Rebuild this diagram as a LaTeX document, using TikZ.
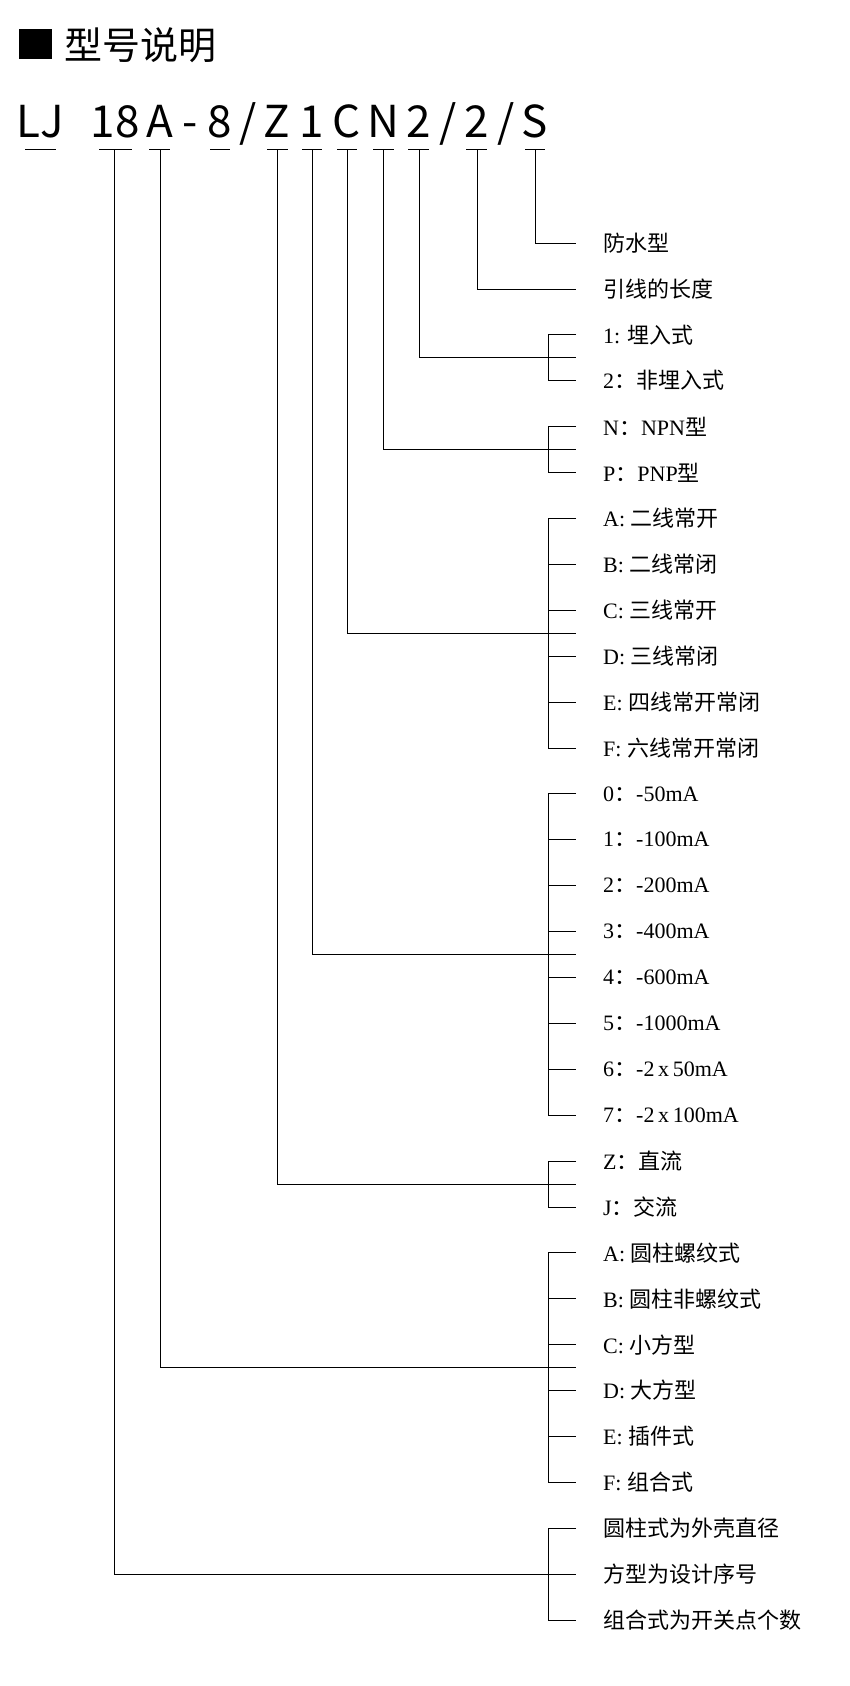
\documentclass[tikz,border=0pt]{standalone}
\usepackage{fontspec}
\setmainfont{Liberation Serif}
\newfontfamily\cjk{Noto Sans CJK SC}
\begin{document}
\begin{tikzpicture}[x=1pt,y=-1pt,
  lab/.style={anchor=west,inner sep=0pt,font=\fontsize{22}{24}\selectfont},
  code/.style={inner sep=0pt,anchor=base,font=\cjk\fontsize{44}{46}\selectfont},
  ln/.style={line width=0.8pt}]
\useasboundingbox (0,0) rectangle (850,1686);
\fill (19,29) rectangle (52,59);
\node[anchor=west,inner sep=0pt,font=\cjk\fontsize{38}{40}\selectfont] (title) at (64,45) {型号说明};
% code characters
\foreach \ch/\x [count=\i] in {LJ/40,1/103,8/128,A/160,-/190,8/220,{/}/248,Z/277,1/312,C/347,N/383,2/419,{/}/448,2/477,{/}/506,S/535}
  \node[code] (c\i) at (\x,137) {\ch};
\foreach \a/\b in {25/56,99/132,149/170,210/230,267/288,302/322,337/357,373/394,408/429,466/487,525/545}
  \draw[ln] (\a,149) -- (\b,149);
% labels
\newcommand\lab[3]{\node[lab] (r#1) at (603,{243+45.9*#1}) {#2{\cjk #3}};}
\lab{0}{}{防水型}
\lab{1}{}{引线的长度}
\lab{2}{1: }{埋入式}
\lab{3}{2}{：非埋入式}
\lab{4}{N}{：\rmfamily NPN\cjk 型}
\lab{5}{P}{：\rmfamily PNP\cjk 型}
\lab{6}{A: }{二线常开}
\lab{7}{B: }{二线常闭}
\lab{8}{C: }{三线常开}
\lab{9}{D: }{三线常闭}
\lab{10}{E: }{四线常开常闭}
\lab{11}{F: }{六线常开常闭}
\lab{12}{0}{：\rmfamily -50mA}
\lab{13}{1}{：\rmfamily -100mA}
\lab{14}{2}{：\rmfamily -200mA}
\lab{15}{3}{：\rmfamily -400mA}
\lab{16}{4}{：\rmfamily -600mA}
\lab{17}{5}{：\rmfamily -1000mA}
\lab{18}{6}{：\rmfamily -2\,x\,50mA}
\lab{19}{7}{：\rmfamily -2\,x\,100mA}
\lab{20}{Z}{：直流}
\lab{21}{J}{：交流}
\lab{22}{A: }{圆柱螺纹式}
\lab{23}{B: }{圆柱非螺纹式}
\lab{24}{C: }{小方型}
\lab{25}{D: }{大方型}
\lab{26}{E: }{插件式}
\lab{27}{F: }{组合式}
\lab{28}{}{圆柱式为外壳直径}
\lab{29}{}{方型为设计序号}
\lab{30}{}{组合式为开关点个数}
% single connectors
\draw[ln] (535,149) |- (576,{243});
\draw[ln] (477,149) |- (576,{243+45.9});
% groups: xcode / first / last
\foreach \xc/\f/\l in {419/2/3,383/4/5,347/6/11,312/12/19,277/20/21,160/22/27,114/28/30}{
  \pgfmathsetmacro\yf{243+45.9*\f}
  \pgfmathsetmacro\yl{243+45.9*\l}
  \pgfmathsetmacro\ym{(\yf+\yl)/2}
  \draw[ln] (\xc,149) |- (548,\ym);
  \draw[ln] (576,\yf) -- (548,\yf) -- (548,\yl) -- (576,\yl);
  \foreach \k in {\f,...,\l}{\draw[ln] (548,{243+45.9*\k}) -- (576,{243+45.9*\k});}
  \draw[ln] (548,\ym) -- (576,\ym);
}
\end{tikzpicture}
\end{document}
